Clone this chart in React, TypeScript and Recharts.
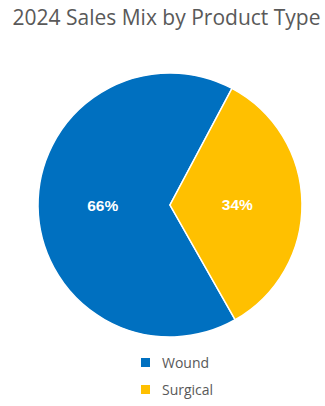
import React from 'react'
import { PieChart, Pie, Cell } from 'recharts'

const categories = ['Wound', 'Surgical']
const shares = [66, 34]
const colors = ['#0070C0', '#FFC000']

const data = categories.map((name, i) => ({ name, value: shares[i] }))

const RADIAN = Math.PI / 180

function renderLabel(props: any) {
  const { cx, cy, midAngle, outerRadius, value } = props
  const r = outerRadius * 0.51
  const x = cx + r * Math.cos(-midAngle * RADIAN)
  const y = cy + r * Math.sin(-midAngle * RADIAN)
  return (
    <text
      x={x}
      y={y}
      fill="#ffffff"
      textAnchor="middle"
      dominantBaseline="central"
      fontFamily="'Liberation Sans', Arial, sans-serif"
      fontWeight="bold"
      fontSize={15.5}
    >
      {`${value}%`}
    </text>
  )
}

function LegendBox() {
  return (
    <div
      style={{
        position: 'absolute',
        top: 349,
        left: 141,
        display: 'flex',
        flexDirection: 'column',
      }}
    >
      {categories.map((name, i) => (
        <div key={name} style={{ display: 'flex', alignItems: 'center', height: 27 }}>
          <span
            style={{
              display: 'inline-block',
              width: 9,
              height: 9,
              background: colors[i],
              marginRight: 12,
            }}
          />
          <span style={{ fontSize: 14, color: '#595959', fontFamily: "'Open Sans', sans-serif" }}>
            {name}
          </span>
        </div>
      ))}
    </div>
  )
}

export default function App() {
  return (
    <div
      style={{
        position: 'absolute',
        left: 0,
        top: 0,
        width: 325,
        height: 406,
        background: '#ffffff',
      }}
    >
      <PieChart width={325} height={406} margin={{ top: 0, right: 0, bottom: 0, left: 0 }}>
        <Pie
          data={data}
          dataKey="value"
          nameKey="name"
          cx={170}
          cy={205}
          outerRadius={132}
          startAngle={62}
          endAngle={422}
          stroke="#ffffff"
          strokeWidth={1.5}
          label={renderLabel}
          labelLine={false}
          isAnimationActive={false}
        >
          {data.map((d, i) => (
            <Cell key={d.name} fill={colors[i]} />
          ))}
        </Pie>
      </PieChart>
      <div
        style={{
          position: 'absolute',
          top: 3,
          left: 0,
          width: 333,
          textAlign: 'center',
          fontFamily: "'Open Sans', sans-serif",
          fontSize: 21,
          color: '#595959',
        }}
      >
        2024 Sales Mix by Product Type
      </div>
      <LegendBox />
    </div>
  )
}
